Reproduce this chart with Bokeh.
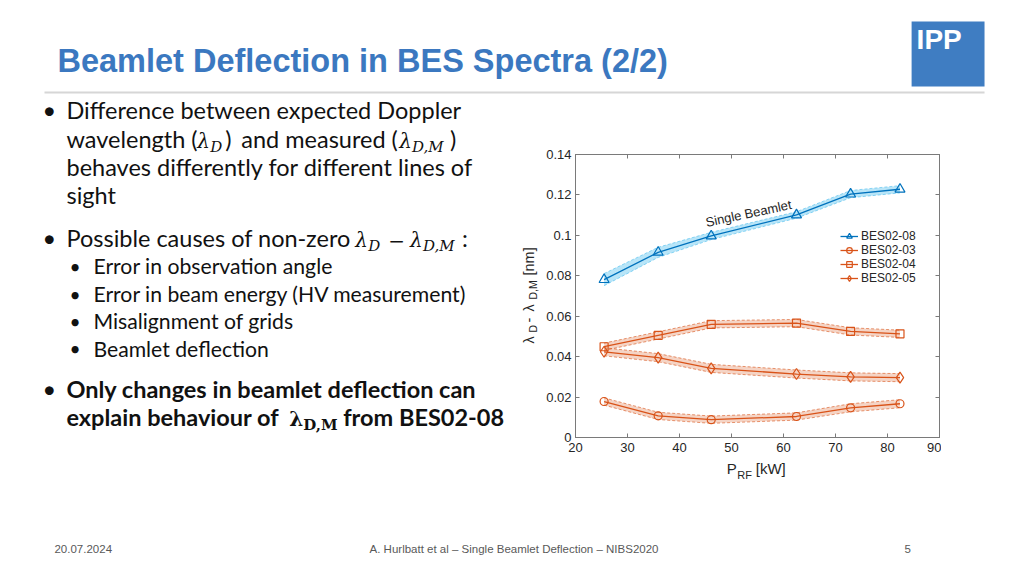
import math
from bokeh.plotting import figure
from bokeh.layouts import column
from bokeh.models import Label, BoxAnnotation, Legend, LegendItem, Range1d, LinearAxis
from bokeh.embed import file_html
from bokeh.resources import INLINE

# ---------------- data ----------------
p_rf = [25.5, 35.9, 46.1, 62.5, 72.9, 82.4]
bes02_08 = [0.0781, 0.0916, 0.0997, 0.1101, 0.1204, 0.1228]
bes02_03 = [0.0178, 0.0107, 0.0088, 0.0104, 0.0147, 0.0167]
bes02_04 = [0.0449, 0.0505, 0.0560, 0.0566, 0.0525, 0.0513]
bes02_05 = [0.0424, 0.0395, 0.0342, 0.0314, 0.0300, 0.0296]
err_08 = [0.0030, 0.0025, 0.0018, 0.0016, 0.0018, 0.0018]
err_03 = [0.0018, 0.0018, 0.0018, 0.0018, 0.0020, 0.0020]
err_04 = [0.0018, 0.0018, 0.0018, 0.0018, 0.0018, 0.0018]
err_05 = [0.0020, 0.0020, 0.0020, 0.0020, 0.0020, 0.0020]
series_names = ["BES02-08", "BES02-03", "BES02-04", "BES02-05"]
x_ticks = [20, 30, 40, 50, 60, 70, 80, 90]
y_ticks = [0, 0.02, 0.04, 0.06, 0.08, 0.1, 0.12, 0.14]
y_tick_labels = ["0", "0.02", "0.04", "0.06", "0.08", "0.1", "0.12", "0.14"]

# ---------------- layout constants (page pixels) ----------------
W, H = 1016, 568
FL, FR, FT, FB = 574, 939, 154, 437        # chart frame in page px
BL, BR = 31, 2                              # chart left / right borders (shared by the slide)
CX0, CX1, CY0, CY1 = FL - BL, FR + BR, 140, 460   # chart canvas placed over the slide
X0, X1, Y0, Y1 = 20, 90, 0, 0.14

def px(X):
    return X0 + (X - FL) * (X1 - X0) / (FR - FL)

def py(Y):
    return Y0 + (FB - Y) * (Y1 - Y0) / (FB - FT)

BLUE = "#0072BD"
ORANGE = "#D95319"
AX = "#262626"
AXLINE = "#7a7a7a"
SANS = "Liberation Sans"

# ---------------- slide canvas (page pixel coordinates, y down) ----------------
slide = figure(width=W, height=H, x_range=Range1d(BL, W - BR), y_range=Range1d(H, 0),
               output_backend="svg", toolbar_location=None,
               min_border_left=BL, min_border_right=BR, min_border_top=0, min_border_bottom=0,
               x_axis_type=None, y_axis_type=None)
slide.outline_line_color = None
slide.background_fill_color = "white"
slide.border_fill_color = "white"

# ---------------- chart ----------------
p = figure(width=CX1 - CX0, height=CY1 - CY0,
           x_range=Range1d(X0, X1), y_range=Range1d(Y0, Y1),
           output_backend="svg", toolbar_location=None,
           min_border_left=BL, min_border_right=BR,
           min_border_top=FT - CY0, min_border_bottom=CY1 - FB,
           margin=(CY0 - H, 0, 0, CX0))
p.background_fill_color = None
p.border_fill_color = None
p.outline_line_color = AXLINE
p.xgrid.visible = False
p.ygrid.visible = False

def style_axis(ax, ticks, labels=None, hidden=False):
    ax.ticker = ticks
    ax.axis_line_color = AXLINE
    ax.major_tick_line_color = AXLINE
    ax.major_tick_in = 4
    ax.major_tick_out = 0
    ax.minor_tick_in = 0
    ax.minor_tick_out = 0
    ax.minor_tick_line_color = None
    ax.major_label_text_font = SANS
    ax.major_label_text_font_size = "0px" if hidden else "13px"
    ax.major_label_text_color = AX
    if hidden:
        ax.major_label_standoff = 0
    if labels is not None:
        ax.major_label_overrides = labels

style_axis(p.xaxis[0], x_ticks)
p.xaxis.major_label_standoff = 5
style_axis(p.yaxis[0], y_ticks, {t: l for t, l in zip(y_ticks, y_tick_labels)})
p.yaxis.major_label_standoff = 4

top_ax = LinearAxis()
style_axis(top_ax, x_ticks, {t: "" for t in x_ticks}, hidden=True)
p.add_layout(top_ax, "above")
right_ax = LinearAxis()
style_axis(right_ax, y_ticks, {t: "" for t in y_ticks}, hidden=True)
p.add_layout(right_ax, "right")

series = [
    (bes02_08, err_08, BLUE, "#4DBEEE", 0.40, "triangle", 10),
    (bes02_03, err_03, ORANGE, ORANGE, 0.25, "circle", 8),
    (bes02_04, err_04, ORANGE, ORANGE, 0.25, "square", 8),
    (bes02_05, err_05, ORANGE, ORANGE, 0.25, "diamond", 11),
]
items = []
for name, (vals, err, col, bcol, balpha, mk, sz) in zip(series_names, series):
    lo = [v - e for v, e in zip(vals, err)]
    hi = [v + e for v, e in zip(vals, err)]
    p.varea(x=p_rf, y1=lo, y2=hi, fill_color=bcol, fill_alpha=balpha)
    p.line(p_rf, lo, line_color=bcol, line_alpha=0.6, line_dash="3 2", line_width=1)
    p.line(p_rf, hi, line_color=bcol, line_alpha=0.6, line_dash="3 2", line_width=1)
    lr = p.line(p_rf, vals, line_color=col, line_width=1.3)
    sr = p.scatter(p_rf, vals, marker=mk, size=sz, line_color=col, fill_color=None, line_width=1.2)
    items.append(LegendItem(label=name, renderers=[lr, sr]))

legend = Legend(items=items, location=(839 - 2 - FL, FB - 287),
                label_text_font=SANS, label_text_font_size="12px",
                label_text_color=AX, glyph_width=18, glyph_height=14, label_height=14,
                spacing=0, padding=2, margin=0, label_standoff=3,
                background_fill_alpha=0, border_line_alpha=0)
p.add_layout(legend)

# ---------------- text helper (y = vertical middle of the text) ----------------
def T(f, text, x, y, size, font="Lato", style="normal", color="#111111",
      align="left", angle=0.0):
    f.add_layout(Label(x=x, y=y, text=text, text_font=font,
                       text_font_size=f"{size}px", text_font_style=style,
                       text_color=color, text_align=align, text_baseline="middle",
                       angle=angle, angle_units="rad"))

T(p, "Single Beamlet", px(747.5), py(213), 13, font=SANS, color=AX,
  align="center", angle=math.radians(12))

# y axis label (rotated, reads bottom to top)
R = math.pi / 2
T(slide, "λ", 528, 343, 14.5, font=SANS, color=AX, angle=R)
T(slide, "D", 532.5, 332, 10.5, font=SANS, color=AX, angle=R)
T(slide, "-", 528, 322, 14.5, font=SANS, color=AX, angle=R)
T(slide, "λ", 528, 311, 14.5, font=SANS, color=AX, angle=R)
T(slide, "D,M", 532.5, 299, 10.5, font=SANS, color=AX, angle=R)
T(slide, "[nm]", 528, 275, 14.5, font=SANS, color=AX, angle=R)

# x axis label
T(slide, "P", 726, 467.5, 15, font=SANS, color=AX)
T(slide, "RF", 736.5, 474, 11, font=SANS, color=AX)
T(slide, "[kW]", 755, 467.5, 15, font=SANS, color=AX)

# ---------------- header ----------------
TITLE_BLUE = "#3B78C0"
slide.add_layout(BoxAnnotation(left=911, right=984, top=21, bottom=86,
                               fill_color="#3F7DC2", fill_alpha=1, line_alpha=0))
T(slide, "IPP", 916, 38.5, 28, font=SANS, style="bold", color="white")
slide.add_layout(BoxAnnotation(left=43, right=984, top=91, bottom=93,
                               fill_color="#d6d6d6", fill_alpha=1, line_alpha=0))
T(slide, "Beamlet Deflection in BES Spectra (2/2)", 56, 60.7, 32.5,
  font=SANS, style="bold", color=TITLE_BLUE)

# ---------------- body text ----------------
BS = 23.5      # first level
SS = 21.2      # second level
MATH = "DejaVu Serif"
ML, MS = 20, 15
LAM = 2.2      # lambda offset from line middle
SUB = 8.0      # subscript offset from line middle

l1, l2, l3, l4 = 109.5, 138, 166, 194
T(slide, "•", 41, l1, BS)
T(slide, "Difference between expected Doppler", 65, l1, BS)
T(slide, "wavelength (", 65, l2, BS)
T(slide, "λ", 196, l2 + LAM, ML, font=MATH, style="italic")
T(slide, "D", 209, l2 + SUB, MS, font=MATH, style="italic")
T(slide, ")", 224, l2, BS)
T(slide, "and measured (", 240, l2, BS)
T(slide, "λ", 398, l2 + LAM, ML, font=MATH, style="italic")
T(slide, "D,M", 411, l2 + SUB, MS, font=MATH, style="italic")
T(slide, ")", 449, l2, BS)
T(slide, "behaves differently for different lines of", 65, l3, BS)
T(slide, "sight", 65, l4, BS)

b2 = 237.5
T(slide, "•", 41, b2, BS)
T(slide, "Possible causes of non-zero", 65, b2, BS)
T(slide, "λ", 354, b2 + LAM, ML, font=MATH, style="italic")
T(slide, "D", 367, b2 + SUB, MS, font=MATH, style="italic")
T(slide, "−", 387, b2 + LAM, ML, font=MATH)
T(slide, "λ", 409, b2 + LAM, ML, font=MATH, style="italic")
T(slide, "D,M", 422, b2 + SUB, MS, font=MATH, style="italic")
T(slide, ":", 461, b2, BS)

sub_items = ["Error in observation angle", "Error in beam energy (HV measurement)",
             "Misalignment of grids", "Beamlet deflection"]
sub_y = [265.5, 293.5, 320.5, 348]
for s, yy in zip(sub_items, sub_y):
    T(slide, "•", 68, yy, SS - 2)
    T(slide, s, 92, yy, SS)

b3a, b3b = 388, 416
T(slide, "•", 41, b3a, BS)
T(slide, "Only changes in beamlet deflection can", 65, b3a, BS, style="bold")
T(slide, "explain behaviour of", 65, b3b, BS, style="bold")
T(slide, "λ", 288, b3b + LAM, ML, font=MATH, style="bold")
T(slide, "D,M", 302, b3b + SUB, MS, font=MATH, style="bold")
T(slide, "from BES02-08", 342, b3b, BS, style="bold")

# ---------------- footer ----------------
FOOT = "#595959"
T(slide, "20.07.2024", 53, 548.5, 11.5, font=SANS, color=FOOT)
T(slide, "A. Hurlbatt et al – Single Beamlet Deflection – NIBS2020", 513, 548.5, 11.5,
  font=SANS, color=FOOT, align="center")
T(slide, "5", 907, 548.5, 11.5, font=SANS, color=FOOT, align="center")

page = column(slide, p)
open("out.html", "w").write(file_html(page, INLINE))
